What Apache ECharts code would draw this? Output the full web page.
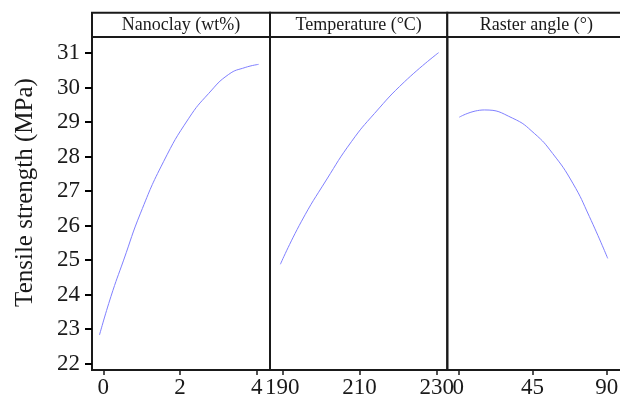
<!DOCTYPE html>
<html><head><meta charset="utf-8">
<script src="https://cdn.jsdelivr.net/npm/echarts@6/dist/echarts.min.js"></script>
<style>html,body{margin:0;padding:0;background:#fff}#c{width:620px;height:397px}</style>
</head><body><div id="c"></div>
<script>
const panelTitles = ['Nanoclay (wt%)', 'Temperature (\u00B0C)', 'Raster angle (\u00B0)'];
const yTitle = 'Tensile strength (MPa)';
const yTicks = [22, 23, 24, 25, 26, 27, 28, 29, 30, 31];

const nanoX = [-0.10, 0.20, 0.53, 0.97, 1.57, 2.23, 2.75, 3.27, 3.70, 4.05];
const nanoY = [22.83, 23.95, 25.00, 26.36, 27.85, 29.11, 29.83, 30.38, 30.58, 30.67];
const nanoTicks = [0, 2, 4];

const tempX = [189.5, 194.9, 201.4, 207.9, 213.9, 221.7, 230.5];
const tempY = [24.88, 26.11, 27.32, 28.43, 29.25, 30.17, 31.01];
const tempTicks = [190, 210, 230];

const angleX = [0.6, 15.8, 33.0, 46.1, 57.2, 69.4, 79.5, 90.6];
const angleY = [29.14, 29.35, 29.11, 28.67, 28.09, 27.23, 26.26, 25.05];
const angleTicks = [0, 45, 90];

const FONT = '"Liberation Serif", "DejaVu Serif", serif';
const ink = '#1a1a1a';
const lineColor = '#8080ff';

const lefts = [92, 270, 447.3];
const widths = [178, 177.3, 200];
const xRanges = [[-0.295, 4.347], [186.81, 232.75], [-6.67, 114.6]];
const xTickSets = [nanoTicks, tempTicks, angleTicks];
const series = [[nanoX, nanoY], [tempX, tempY], [angleX, angleY]];
const Y_MIN = 21.817, Y_MAX = 31.463;

const grids = [], xAxes = [], yAxes = [], ser = [], graphics = [];
for (let i = 0; i < 3; i++) {
  grids.push({left: lefts[i], top: 37, width: widths[i], height: 333, show: true,
    borderColor: ink, borderWidth: 2, backgroundColor: 'transparent',
    containLabel: false, outerBoundsMode: 'none'});
  xAxes.push({type: 'value', gridIndex: i, min: xRanges[i][0], max: xRanges[i][1],
    splitLine: {show: false}, axisLine: {show: true, onZero: false, lineStyle: {color: ink, width: 2}},
    axisTick: {show: true, length: 5, inside: false, customValues: xTickSets[i], lineStyle: {color: ink, width: 1.5}},
    axisLabel: {show: true, customValues: xTickSets[i], color: ink, fontFamily: FONT, fontSize: 23, margin: 6}});
  yAxes.push({type: 'value', gridIndex: i, min: Y_MIN, max: Y_MAX,
    splitLine: {show: false}, axisLine: {show: false, onZero: false},
    axisTick: {show: false},
    axisLabel: {show: i === 0, customValues: yTicks, color: ink, fontFamily: FONT, fontSize: 23, margin: 12}});
  ser.push({type: 'line', xAxisIndex: i, yAxisIndex: i, showSymbol: false, smooth: true,
    data: series[i][0].map((x, k) => [x, series[i][1][k]]),
    lineStyle: {color: lineColor, width: 1}, clip: true});
}
// strips
for (let i = 0; i < 3; i++) {
  grids.push({left: lefts[i], top: 12.7, width: widths[i], height: 24.3, show: true,
    borderColor: ink, borderWidth: 2, backgroundColor: '#fff', outerBoundsMode: 'none'});
  xAxes.push({type: 'value', gridIndex: 3 + i, show: false});
  yAxes.push({type: 'value', gridIndex: 3 + i, show: false});
  graphics.push({type: 'text', x: lefts[i] + [178, 177.3, 178][i] / 2, y: 25.5,
    style: {text: panelTitles[i], font: '18px ' + FONT, fill: ink,
      align: 'center', verticalAlign: 'middle', textAlign: 'center', textVerticalAlign: 'middle'}});
}
// tick-only y axis for panel 1, drawn on top
yAxes.push({type: 'value', gridIndex: 0, position: 'left', min: Y_MIN, max: Y_MAX, z: 20,
  splitLine: {show: false}, axisLine: {show: true, onZero: false, lineStyle: {color: ink, width: 2}},
  axisTick: {show: true, length: 7, inside: false, customValues: yTicks, lineStyle: {color: '#000', width: 2}},
  axisLabel: {show: false}});

graphics.push({type: 'text', x: 25, y: 192.5, rotation: Math.PI / 2,
  style: {text: yTitle, font: '25px ' + FONT, fill: ink,
    align: 'center', verticalAlign: 'middle', textAlign: 'center', textVerticalAlign: 'middle'}});

const chart = echarts.init(document.getElementById('c'), null, {renderer: 'canvas'});
chart.setOption({
  animation: false,
  backgroundColor: '#fff',
  grid: grids, xAxis: xAxes, yAxis: yAxes, series: ser, graphic: graphics
});
</script></body></html>
